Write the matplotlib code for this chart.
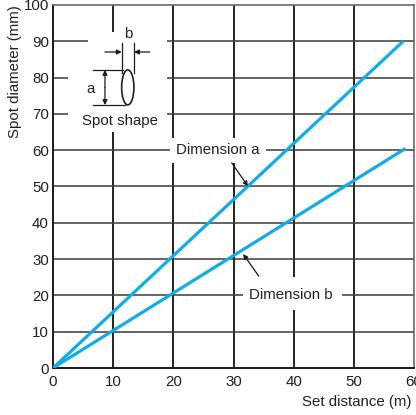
import matplotlib
matplotlib.use("Agg")
import matplotlib.pyplot as plt
from matplotlib.patches import Rectangle, Ellipse

# Spot diameter vs. set distance
distance_a = [0, 58.2]
dimension_a = [0, 90]
distance_b = [0, 58.6]
dimension_b = [0, 60.5]

x_ticks = [0, 10, 20, 30, 40, 50, 60]
y_ticks = [0, 10, 20, 30, 40, 50, 60, 70, 80, 90, 100]

plt.rcParams['font.family'] = ['Liberation Sans', 'DejaVu Sans']
TXT = '#231f20'
BLUE = '#12ace6'
FS = 10.8

fig = plt.figure(figsize=(4.16, 4.15), dpi=100)
ax = fig.add_axes([53 / 416, 47 / 415, 361 / 416, 363 / 415])
ax.set_xlim(0, 60)
ax.set_ylim(0, 100)

# grid
for x in x_ticks[1:-1]:
    ax.axvline(x, color='#222222', lw=1.4, zorder=1)
for y in y_ticks[1:-1]:
    ax.axhline(y, color='#3a3a3a', lw=1.1, zorder=1)

# white clearings behind the annotations
for (x0, y0, w, h) in [(2.5, 65.0, 16.4, 21.0), (5.8, 65.0, 13.1, 27.6),
                       (19.4, 56.5, 16.0, 6.9), (31.6, 16.0, 16.4, 9.1)]:
    ax.add_patch(Rectangle((x0, y0), w, h, facecolor='white', edgecolor='none', zorder=2))

# data lines
ax.plot(distance_a, dimension_a, color=BLUE, lw=2.3, solid_capstyle='butt', zorder=4)
ax.plot(distance_b, dimension_b, color=BLUE, lw=2.3, solid_capstyle='butt', zorder=4)

# labels with leader arrows
ax.text(27.4, 60, 'Dimension a', ha='center', va='center', fontsize=FS, color=TXT, zorder=5)
ax.text(39.6, 20, 'Dimension b', ha='center', va='center', fontsize=FS, color=TXT, zorder=5)
arrow = dict(arrowstyle='-|>', color='#1a1a1a', lw=0.9, mutation_scale=7, shrinkA=0, shrinkB=0)
ax.annotate('', xy=(32.4, 50.1), xytext=(29.7, 56.5), arrowprops=arrow, zorder=5)
ax.annotate('', xy=(31.6, 31.4), xytext=(34.2, 25.3), arrowprops=arrow, zorder=5)

# spot shape sketch
k = dict(color=TXT, lw=0.9, zorder=5)
ax.add_patch(Ellipse((12.43, 77.3), 2.04, 9.64, fill=False, edgecolor=TXT, lw=1.2, zorder=5))
ax.plot([6.65, 11.6], [82.1, 82.1], **k)
ax.plot([6.65, 12.0], [72.45, 72.45], **k)
ax.annotate('', xy=(8.64, 82.1), xytext=(8.64, 77.3), arrowprops=arrow, zorder=5)
ax.annotate('', xy=(8.64, 72.45), xytext=(8.64, 77.3), arrowprops=arrow, zorder=5)
ax.plot([11.42, 11.42], [81.3, 89.5], **k)
ax.plot([13.46, 13.46], [81.3, 89.5], **k)
ax.annotate('', xy=(11.42, 87.05), xytext=(8.64, 87.05), arrowprops=arrow, zorder=5)
ax.annotate('', xy=(13.46, 87.05), xytext=(16.1, 87.05), arrowprops=arrow, zorder=5)
ax.text(12.46, 92.0, 'b', ha='center', va='center', fontsize=FS, color=TXT, zorder=5)
ax.text(6.15, 76.9, 'a', ha='center', va='center', fontsize=FS, color=TXT, zorder=5)
ax.text(11.1, 68.0, 'Spot shape', ha='center', va='center', fontsize=FS, color=TXT, zorder=5)

# axes styling
ax.set_xticks(x_ticks)
ax.set_yticks(y_ticks)
ax.tick_params(length=0, labelsize=FS, labelcolor=TXT)
ax.tick_params(axis='x', pad=5)
ax.tick_params(axis='y', pad=3)
for s in ['left', 'bottom']:
    ax.spines[s].set_color('#1a1a1a')
    ax.spines[s].set_linewidth(1.4)
for s in ['top', 'right']:
    ax.spines[s].set_color('#6a6a6a')
    ax.spines[s].set_linewidth(1.2)

fig.text(411.7 / 416, 1 - 401.7 / 415, 'Set distance (m)', ha='right', va='center',
         fontsize=FS, color=TXT)
fig.text(15 / 416, 1 - 72 / 415, 'Spot diameter (mm)', ha='center', va='center',
         rotation=90, fontsize=FS, color=TXT)

fig.savefig('out.png', dpi=100)
